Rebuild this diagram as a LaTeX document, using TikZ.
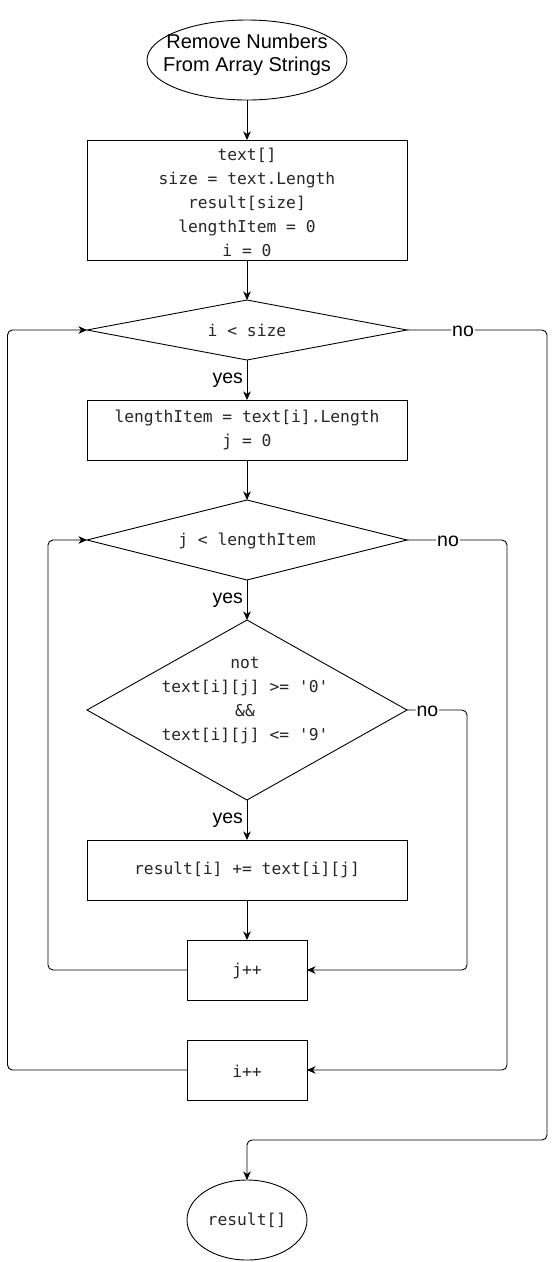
\documentclass[tikz,border=0pt]{standalone}
\usepackage{fontspec}
\setmainfont{Liberation Sans}
\setmonofont{DejaVu Sans Mono}
\usetikzlibrary{shapes.geometric,arrows.meta}
\begin{document}
\begin{tikzpicture}[x=1pt,y=-1pt,
  every node/.style={inner sep=0pt,outer sep=0pt},
  line/.style={line width=0.9pt,draw=black},
  arr/.style={line,rounded corners=5pt,-{Stealth[length=8.5pt,width=7.5pt,inset=2.5pt]}},
  procbox/.style={line,rectangle},
  decision/.style={line,diamond},
  oval/.style={line,ellipse},
  code/.style={font=\ttfamily\fontsize{16.3}{24}\selectfont,align=center,text=black!85},
  title/.style={font=\fontsize{20}{23.5}\selectfont,align=center},
  yeslbl/.style={font=\fontsize{19.5}{22}\selectfont,anchor=east,xshift=-4pt},
  nolbl/.style={font=\fontsize{19.5}{22}\selectfont,fill=white,inner sep=1pt,yshift=-1.5pt}]
\useasboundingbox (0,0) rectangle (556,1262);

% nodes
\node[oval,minimum width=200pt,minimum height=80pt] (start) at (247,60) {};
\node[title] (starttxt) at (247,55) {Remove Numbers\\From Array Strings};

\node[procbox,minimum width=320pt,minimum height=120pt] (init) at (247,200) {};
\node[code] (inittxt) at (247,202) {text[]\\size = text.Length\\result[size]\\lengthItem = 0\\i = 0};

\node[decision,minimum width=320pt,minimum height=60pt] (d1) at (247,330) {};
\node[code] (d1txt) at (247,330) {i < size};

\node[procbox,minimum width=320pt,minimum height=60pt] (body) at (247,430) {};
\node[code] (bodytxt) at (247,430) {lengthItem = text[i].Length\\j = 0};

\node[decision,minimum width=320pt,minimum height=80pt] (d2) at (247,540) {};
\node[code] (d2txt) at (247,541) {j < lengthItem};

\node[decision,minimum width=320pt,minimum height=180pt] (d3) at (247,710) {};
\node[code] (d3txt) at (245,700) {not\\text[i][j] >= '0'\\\&\&\\text[i][j] <= '9'};

\node[procbox,minimum width=320pt,minimum height=60pt] (append) at (247,870) {};
\node[code] (appendtxt) at (247,870) {result[i] += text[i][j]};

\node[procbox,minimum width=120pt,minimum height=60pt] (jpp) at (247,970) {};
\node[code] (jpptxt) at (247,971) {j++};

\node[procbox,minimum width=120pt,minimum height=60pt] (ipp) at (247,1070) {};
\node[code] (ipptxt) at (247,1071) {i++};

\node[oval,minimum width=120pt,minimum height=80pt] (final) at (247,1220) {};
\node[code] (finaltxt) at (247,1220) {result[]};

% connectors
\draw[arr] (start) -- (init);
\draw[arr] (init) -- (d1);
\draw[arr] (d1.south) -- node[yeslbl,pos=0.5]{yes} (body.north);
\draw[arr] (body) -- (d2);
\draw[arr] (d2.south) -- node[yeslbl,pos=0.5]{yes} (d3.north);
\draw[arr] (d3.south) -- node[yeslbl,pos=0.5]{yes} (append.north);
\draw[arr] (append) -- (jpp);

\draw[arr] (d1.east) -- node[nolbl,pos=0.4]{no} (547,330) -- (547,1140) -- (247,1140) -- (final.north);
\draw[arr] (d2.east) -- node[nolbl,pos=0.41]{no} (507,540) -- (507,1070) -- (ipp.east);
\draw[arr] (d3.east) -- node[nolbl,pos=0.34]{no} (467,710) -- (467,970) -- (jpp.east);

\draw[arr] (jpp.west) -- (48,970) -- (48,540) -- (d2.west);
\draw[arr] (ipp.west) -- (7.5,1070) -- (7.5,330) -- (d1.west);
\end{tikzpicture}
\end{document}
